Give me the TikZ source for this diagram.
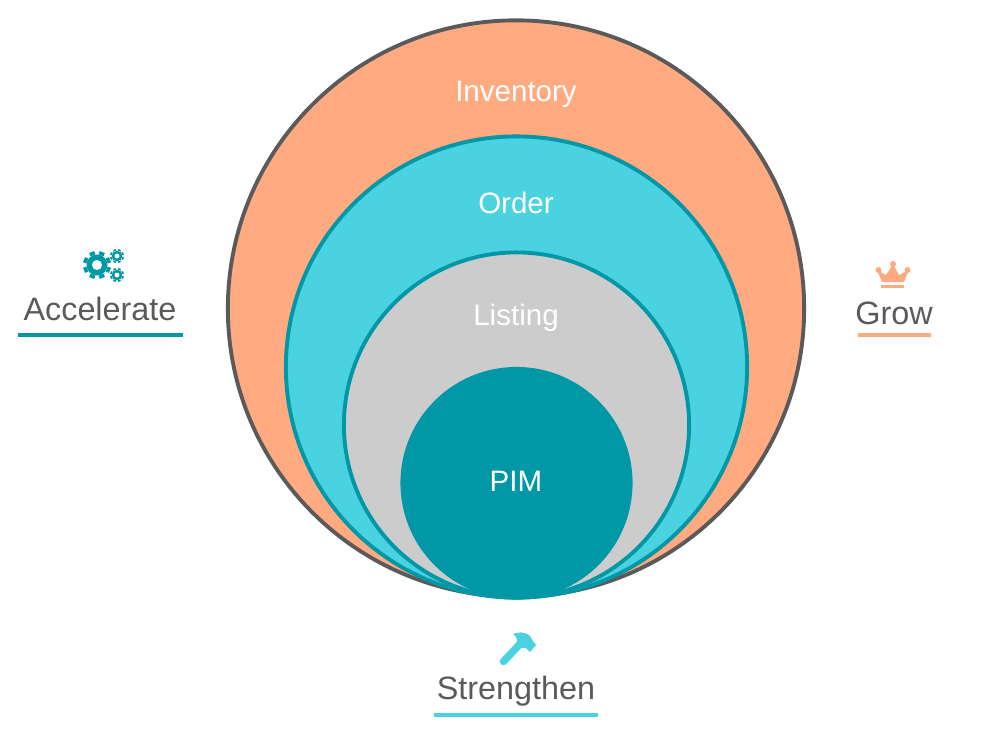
\documentclass[tikz,border=0pt]{standalone}
\usepackage{fontspec}
\setmainfont{Liberation Sans}
\definecolor{peach}{HTML}{FFAA80}
\definecolor{aqua}{HTML}{4AD2E1}
\definecolor{silver}{HTML}{CCCCCC}
\definecolor{teal}{HTML}{0097A7}
\definecolor{slate}{HTML}{5A5A5A}
\tikzset{
  ring/.style={circle,inner sep=0pt,line width=1.1pt},
  inlabel/.style={anchor=base,text=white,font=\fontsize{8.4pt}{10pt}\selectfont},
  outlabel/.style={anchor=base,text=slate,font=\fontsize{9.2pt}{11pt}\selectfont},
  rule/.style={line width=1.05pt}
}

\begin{document}
\begin{tikzpicture}[x=0.01cm,y=-0.01cm]
    \useasboundingbox (0,0) rectangle (1000,732);

    \node[ring,draw=slate,fill=peach,minimum size=5.76cm] at (516,308.5) (inventory) {};
    \node[ring,draw=teal,fill=aqua,minimum size=4.61cm] at (516.5,367) (order) {};
    \node[ring,draw=teal,fill=silver,minimum size=3.45cm] at (516.5,425) (listing) {};
    \node[circle,inner sep=0pt,fill=teal,minimum size=2.32cm] at (516.5,483) (pim) {};

    \node[inlabel] at (516,101) (inventorytext) {Inventory};
    \node[inlabel] at (516,213) (ordertext) {Order};
    \node[inlabel] at (516,325) (listingtext) {Listing};
    \node[inlabel] at (516,491) (pimtext) {PIM};

    \node[outlabel] at (100,320) (accelerate) {Accelerate};
    \node[outlabel] at (894,324) (grow) {Grow};
    \node[outlabel] at (516,699) (strengthen) {Strengthen};

    \draw[rule,teal] (18,335) -- (183,335);
    \draw[rule,peach] (858,335) -- (931,335);
    \draw[rule,aqua] (434,715) -- (598,715);

    % gears
    \foreach \cx/\cy/\ro/\ri/\rh in {97/265/14/10.5/5,117/256/7/5.3/2.5,117/275/7/5.3/2.5} {
        \foreach \a in {0,45,...,315}
            \draw[teal,line width=\ro*0.11pt] ({\cx+\ri*cos(\a+22.5)},{\cy+\ri*sin(\a+22.5)}) -- ({\cx+\ro*cos(\a+22.5)},{\cy+\ro*sin(\a+22.5)});
        \fill[teal] (\cx,\cy) circle[radius=\ri];
        \fill[white] (\cx,\cy) circle[radius=\rh];
    }

    % crown
    \fill[peach] (882,282) -- (877,270) -- (886,275) -- (893,264) -- (899,275) -- (909,270) -- (904,282) -- cycle;
    \fill[peach] (878.5,270) circle[radius=3];
    \fill[peach] (893,264) circle[radius=3];
    \fill[peach] (907.5,270) circle[radius=3];
    \fill[peach] (881,285) rectangle (904,288);

    % hammer
    \draw[aqua,line width=2.1pt,line cap=round] (503.5,661.5) -- (519,645);
    \fill[aqua] (513,634) .. controls (518,632) and (524,631) .. (530,636) -- (533,641) -- (536,645) -- (530,652) -- (526,648) -- (522,648) -- (517,642) .. controls (517,638) and (516,636) .. (513,634) -- cycle;
\end{tikzpicture}
\end{document}
